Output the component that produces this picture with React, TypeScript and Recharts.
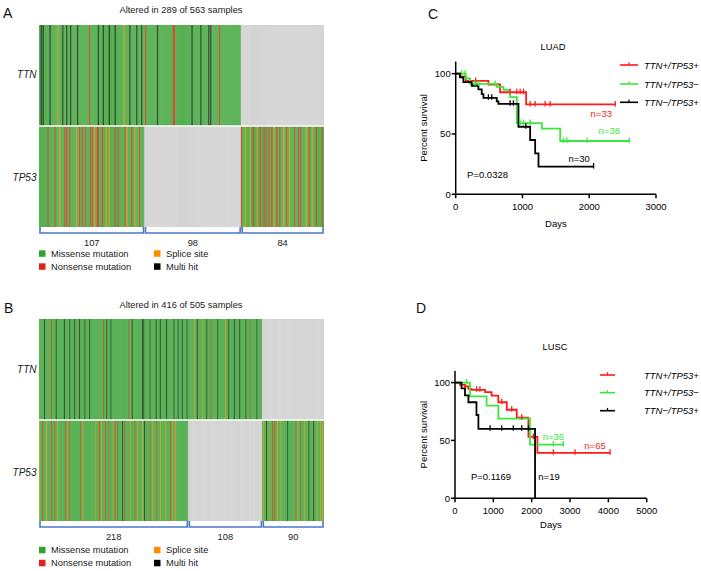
import {
  Bar,
  BarChart,
  Cell,
  ComposedChart,
  LabelList,
  Line,
  ReferenceDot,
  XAxis,
  YAxis,
} from "recharts";

type Hit = [number, string];
type KmPoint = [number, number, number];

// ---- oncoprint data (sample index, alteration type) ----
// M = multi hit, N = nonsense, S = splice site; everything else in an altered block is missense
const luadGroups = [107, 98, 84];
const luadTtnHits: Hit[] = [
  [2, "M"], [4, "M"], [11, "M"], [19, "S"], [24, "M"], [28, "M"], [32, "M"], [39, "M"], [51, "N"],
  [60, "M"], [65, "M"], [71, "M"], [77, "M"], [86, "S"], [92, "M"], [99, "M"], [104, "M"], [108, "N"],
  [120, "M"], [136, "N"], [137, "N"], [155, "M"], [164, "M"], [172, "M"], [174, "M"], [183, "N"],
];
const luadTp53Hits: Hit[] = [
  [9, "N"], [16, "N"], [21, "S"], [26, "N"], [28, "N"], [31, "N"], [38, "S"], [41, "N"], [44, "N"],
  [47, "N"], [52, "N"], [54, "N"], [56, "S"], [59, "N"], [60, "N"], [64, "N"], [68, "S"], [71, "S"],
  [77, "N"], [80, "N"], [87, "N"], [89, "S"], [94, "N"], [97, "S"], [102, "N"],
  [205, "N"], [209, "S"], [214, "S"], [217, "N"], [221, "S"], [224, "N"], [228, "N"], [230, "N"],
  [233, "N"], [236, "N"], [238, "S"], [241, "N"], [244, "N"], [248, "S"], [251, "N"], [254, "S"],
  [259, "N"], [263, "N"], [265, "N"], [271, "S"], [274, "N"], [277, "S"], [281, "N"], [287, "N"],
];

const luscGroups = [218, 108, 90];
const luscTtnHits: Hit[] = [
  [8, "M"], [18, "N"], [25, "M"], [37, "M"], [45, "M"], [52, "M"], [59, "M"], [67, "M"], [74, "M"],
  [94, "N"], [99, "M"], [105, "M"], [131, "N"], [136, "M"], [151, "M"], [153, "M"], [162, "M"],
  [171, "M"], [177, "M"], [186, "M"], [197, "M"], [203, "M"], [209, "M"], [216, "M"], [227, "S"],
  [231, "M"], [239, "S"], [245, "M"], [251, "N"], [261, "M"], [272, "S"], [277, "M"], [285, "M"],
  [293, "M"], [302, "M"], [308, "N"], [318, "M"],
];
const luscTp53Hits: Hit[] = [
  [1, "S"], [5, "N"], [11, "S"], [18, "N"], [23, "N"], [27, "S"], [38, "N"], [42, "S"], [44, "N"],
  [61, "N"], [64, "S"], [83, "S"], [88, "N"], [91, "S"], [97, "N"], [102, "N"], [108, "S"], [111, "N"],
  [115, "N"], [122, "M"], [125, "N"], [133, "S"], [140, "N"], [144, "S"], [151, "S"], [154, "M"],
  [162, "N"], [166, "S"], [172, "N"], [177, "S"], [185, "S"], [192, "N"], [195, "S"], [199, "S"],
  [328, "S"], [332, "M"], [337, "S"], [341, "N"], [344, "N"], [348, "S"], [353, "S"], [363, "M"],
  [375, "N"], [378, "S"], [382, "N"], [388, "S"], [394, "M"], [401, "M"], [406, "S"], [411, "S"],
  [414, "S"],
];

// ---- survival curves: [days, percent survival, censored] ----
const luadPosPos: KmPoint[] = [
  [0, 100, 0], [60, 97.5, 0], [150, 94, 0], [300, 94, 1], [490, 91, 0], [665, 84.6, 0],
  [815, 84.6, 1], [915, 84.6, 1], [965, 84.6, 1], [1015, 84.6, 1], [1055, 74.5, 0], [1115, 74.5, 1],
  [1190, 74.5, 1], [1340, 74.5, 1], [1415, 74.5, 1], [2390, 74.5, 1],
];
const luadPosNeg: KmPoint[] = [
  [0, 100, 0], [90, 100, 1], [140, 100, 1], [150, 96, 0], [215, 91.5, 0], [290, 91.5, 1],
  [340, 91.5, 1], [590, 91.5, 1], [615, 89, 0], [715, 86.5, 0], [815, 80.5, 0], [915, 59, 0],
  [965, 59, 1], [1015, 59, 1], [1115, 59, 1], [1290, 54.4, 0], [1565, 44.2, 0], [1615, 44.2, 1],
  [1665, 44.2, 1], [1965, 44.2, 1], [2600, 44.2, 1],
];
const luadNegPos: KmPoint[] = [
  [0, 100, 0], [65, 97, 0], [115, 93, 0], [240, 90, 0], [340, 87, 0], [390, 83, 0], [415, 80, 0],
  [490, 80, 1], [540, 80, 1], [615, 77, 0], [640, 75, 0], [815, 75, 1], [865, 75, 1], [940, 56, 0],
  [1050, 56, 1], [1115, 45, 0], [1190, 34, 0], [1240, 23, 0], [2065, 23, 1],
];

const luscPosPos: KmPoint[] = [
  [0, 100, 0], [130, 98, 0], [260, 96.6, 0], [350, 94.6, 0], [435, 93.7, 0], [565, 93.7, 1],
  [650, 93.7, 1], [785, 91.7, 0], [955, 88.8, 0], [1130, 83, 0], [1220, 83, 1], [1350, 76.5, 0],
  [1480, 76.5, 1], [1610, 69.6, 0], [1740, 69.6, 1], [1915, 53, 0], [2045, 53, 1], [2150, 39.3, 0],
  [2565, 39.3, 1], [3130, 39.3, 1], [4045, 39.3, 1],
];
const luscPosNeg: KmPoint[] = [
  [0, 100, 0], [305, 100, 1], [390, 88, 0], [825, 80, 0], [1130, 68.8, 0], [1955, 46.4, 0],
  [2565, 46.4, 1], [2825, 46.4, 1],
];
const luscNegPos: KmPoint[] = [
  [0, 100, 0], [170, 95, 0], [260, 89, 0], [350, 83, 0], [560, 72, 0], [610, 60, 0], [915, 60, 1],
  [1220, 60, 1], [1520, 60, 1], [1740, 60, 1], [1915, 60, 1], [2088, 0, 0],
];

const kmLabels = ["TTN+/TP53+", "TTN+/TP53\u2212", "TTN\u2212/TP53+"];
const luadTicks = [0, 1000, 2000, 3000];
const luscTicks = [0, 1000, 2000, 3000, 4000, 5000];
const survivalTicks = [0, 50, 100];

const FONT = '"Liberation Sans", Arial, Helvetica, sans-serif';

const MISSENSE = "#57b152";
const NONSENSE = "#e8392b";
const SPLICE = "#f29a1f";
const MULTI = "#262626";
const NOT_ALTERED = "#d5d5d5";
const BRACKET = "#4a78c8";

const KM_RED = "#ff1a1a";
const KM_GREEN = "#3be83b";
const KM_BLACK = "#000000";
const kmColors = [KM_RED, KM_GREEN, KM_BLACK];

const hitColor: Record<string, string> = {
  G: MISSENSE,
  X: NOT_ALTERED,
  M: MULTI,
  N: NONSENSE,
  S: SPLICE,
};

function buildSamples(groups: number[], ttnHits: Hit[], tp53Hits: Hit[], stripe: number) {
  const total = groups.reduce((a, b) => a + b, 0);
  const firstEnd = groups[0];
  const secondEnd = groups[0] + groups[1];
  const rows = Array.from({ length: total }, (_, i) => ({
    i,
    ttn: i < secondEnd ? "G" : "X",
    tp53: i < firstEnd || i >= secondEnd ? "G" : "X",
    tp53V: 1,
    gapV: 0.02,
    ttnV: 1,
  }));
  ttnHits.forEach(([s, t]) => {
    for (let k = 0; k < stripe; k++) {
      const r = rows[s + k];
      if (r && r.ttn !== "X") r.ttn = t;
    }
  });
  tp53Hits.forEach(([s, t]) => {
    for (let k = 0; k < stripe; k++) {
      const r = rows[s + k];
      if (r && r.tp53 !== "X") r.tp53 = t;
    }
  });
  return rows;
}

const Bracket = (props: any) => {
  const { x, y, width, height } = props;
  const l = x + 1;
  const r = x + width - 1;
  const b = y + height;
  return (
    <path
      d={`M${l},${y} L${l},${b} L${r},${b} L${r},${y}`}
      fill="none"
      stroke={BRACKET}
      strokeWidth={1.6}
    />
  );
};

interface OncoprintProps {
  groups: number[];
  ttnHits: Hit[];
  tp53Hits: Hit[];
  stripe: number;
  top: number;
}

const Oncoprint = ({ groups, ttnHits, tp53Hits, stripe, top }: OncoprintProps) => {
  const rows = buildSamples(groups, ttnHits, tp53Hits, stripe);
  const total = rows.length;
  const bracketRow: Record<string, number | string> = { name: "groups" };
  groups.forEach((g, k) => {
    bracketRow[`g${k}`] = g;
  });

  return (
    <>
      <div style={{ position: "absolute", left: 39, top }}>
        <BarChart
          width={285}
          height={202}
          data={rows}
          margin={{ top: 0, right: 0, bottom: 0, left: 0 }}
          barCategoryGap={0}
          barGap={0}
        >
          <XAxis dataKey="i" hide />
          <YAxis hide domain={[0, 2.02]} allowDataOverflow />
          <Bar dataKey="tp53V" stackId="s" isAnimationActive={false}>
            {rows.map((r) => (
              <Cell key={r.i} fill={hitColor[r.tp53]} stroke={hitColor[r.tp53]} strokeWidth={0.5} />
            ))}
          </Bar>
          <Bar dataKey="gapV" stackId="s" fill="#ffffff" fillOpacity={0} isAnimationActive={false} />
          <Bar dataKey="ttnV" stackId="s" isAnimationActive={false}>
            {rows.map((r) => (
              <Cell key={r.i} fill={hitColor[r.ttn]} stroke={hitColor[r.ttn]} strokeWidth={0.5} />
            ))}
          </Bar>
        </BarChart>
      </div>
      <div style={{ position: "absolute", left: 39, top: top + 201 }}>
        <BarChart
          layout="vertical"
          width={285}
          height={26}
          data={[bracketRow]}
          margin={{ top: 0, right: 0, bottom: 18, left: 0 }}
        >
          <XAxis type="number" hide domain={[0, total]} allowDataOverflow />
          <YAxis type="category" dataKey="name" hide />
          {groups.map((_, k) => (
            <Bar
              key={k}
              dataKey={`g${k}`}
              stackId="b"
              barSize={6}
              shape={Bracket}
              isAnimationActive={false}
            >
              <LabelList dataKey={`g${k}`} position="bottom" offset={6} fill="#222" fontSize={9.3} />
            </Bar>
          ))}
        </BarChart>
      </div>
    </>
  );
};

const censorDot = (color: string) => (props: any) => {
  const { cx, cy, payload, index } = props;
  if (!payload || !payload.c) return <g key={`d${index}`} />;
  return (
    <line
      key={`d${index}`}
      x1={cx}
      x2={cx}
      y1={cy - 3.5}
      y2={cy + 2}
      stroke={color}
      strokeWidth={1.3}
    />
  );
};

const toRows = (pts: KmPoint[]) => pts.map(([t, s, c]) => ({ t, s, c }));

interface Note {
  x: number;
  y: number;
  text: string;
  color: string;
}

interface KmProps {
  top: number;
  height: number;
  yAxisWidth: number;
  margin: { top: number; right: number; bottom: number; left: number };
  xAxisHeight: number;
  xMax: number;
  xTicks: number[];
  curves: KmPoint[][];
  notes: Note[];
  yLabelOffset: number;
}

const axisStyle = { stroke: "#000", strokeWidth: 1.5 };

// chart box starts at x=405 so the rotated axis title is not clipped
const KmPanel = ({ top, height, yAxisWidth, margin, xAxisHeight, xMax, xTicks, curves, notes, yLabelOffset }: KmProps) => (
  <div style={{ position: "absolute", left: 405, top }}>
    <ComposedChart width={296} height={height} margin={margin}>
      <XAxis
        type="number"
        dataKey="t"
        domain={[0, xMax]}
        ticks={xTicks}
        allowDataOverflow
        height={xAxisHeight}
        axisLine={axisStyle}
        tickLine={axisStyle}
        tickSize={4}
        tickMargin={5}
        tick={{ fill: "#000", fontSize: 9.5 }}
        label={{ value: "Days", position: "insideBottom", offset: 0, fill: "#000", fontSize: 9.5 }}
      />
      <YAxis
        type="number"
        domain={[0, 110]}
        ticks={survivalTicks}
        allowDataOverflow
        width={yAxisWidth}
        axisLine={axisStyle}
        tickLine={axisStyle}
        tickSize={4}
        tickMargin={1}
        tick={{ fill: "#000", fontSize: 9.5 }}
        label={{
          value: "Percent survival",
          angle: -90,
          position: "insideLeft",
          offset: yLabelOffset,
          fill: "#000",
          fontSize: 9.5,
          style: { textAnchor: "middle" },
        }}
      />
      {curves.map((pts, k) => (
        <Line
          key={k}
          data={toRows(pts)}
          dataKey="s"
          type="stepAfter"
          stroke={kmColors[k]}
          strokeWidth={1.8}
          dot={censorDot(kmColors[k])}
          activeDot={false}
          isAnimationActive={false}
        />
      ))}
      {notes.map((n) => (
        <ReferenceDot
          key={n.text}
          x={n.x}
          y={n.y}
          r={0}
          fill="none"
          stroke="none"
          label={{ value: n.text, position: "center", fill: n.color, fontSize: 9.5 }}
        />
      ))}
    </ComposedChart>
  </div>
);

const Swatch = ({ x, cy, color, label }: { x: number; cy: number; color: string; label: string }) => (
  <g>
    <rect x={x} y={cy - 3.2} width={6.5} height={6.5} fill={color} />
    <text x={x + 12} y={cy} fontSize={9.3} fill="#222" dominantBaseline="central">
      {label}
    </text>
  </g>
);

const MutationKey = ({ cy }: { cy: number }) => (
  <g>
    <Swatch x={39} cy={cy} color="#2fa32f" label="Missense mutation" />
    <Swatch x={154} cy={cy} color="#ff8c00" label="Splice site" />
    <Swatch x={39} cy={cy + 13} color="#e3211c" label="Nonsense mutation" />
    <Swatch x={154} cy={cy + 13} color="#000" label="Multi hit" />
  </g>
);

const KmKey = ({ x1, x2, textX, rows }: { x1: number; x2: number; textX: number; rows: number[] }) => (
  <g>
    {rows.map((cy, k) => (
      <g key={k}>
        <line x1={x1} x2={x2} y1={cy} y2={cy} stroke={kmColors[k]} strokeWidth={1.6} />
        <line x1={(x1 + x2) / 2} x2={(x1 + x2) / 2} y1={cy - 2.8} y2={cy} stroke={kmColors[k]} strokeWidth={1.2} />
        <text x={textX} y={cy} fontSize={9.5} fontStyle="italic" fill="#000" dominantBaseline="central">
          {kmLabels[k]}
        </text>
      </g>
    ))}
  </g>
);

export default function App() {
  return (
    <div
      style={{
        position: "absolute",
        left: 0,
        top: 0,
        width: 701,
        height: 571,
        background: "#fff",
        fontFamily: FONT,
        overflow: "hidden",
      }}
    >
      <Oncoprint groups={luadGroups} ttnHits={luadTtnHits} tp53Hits={luadTp53Hits} stripe={1} top={25} />
      <Oncoprint groups={luscGroups} ttnHits={luscTtnHits} tp53Hits={luscTp53Hits} stripe={1} top={319} />

      <KmPanel
        top={40}
        height={200}
        yAxisWidth={50.7}
        margin={{ top: 21.6, right: 45, bottom: 12.7, left: 0 }}
        xAxisHeight={33}
        xMax={3000}
        xTicks={luadTicks}
        curves={[luadPosPos, luadPosNeg, luadNegPos]}
        yLabelOffset={18.8}
        notes={[
          { x: 2180, y: 66.6, text: "n=33", color: KM_RED },
          { x: 2300, y: 52.7, text: "n=38", color: KM_GREEN },
          { x: 1850, y: 29.5, text: "n=30", color: KM_BLACK },
          { x: 477, y: 16, text: "P=0.0328", color: KM_BLACK },
        ]}
      />
      <KmPanel
        top={300}
        height={240}
        yAxisWidth={50}
        margin={{ top: 71, right: 54.3, bottom: 11.7, left: 0 }}
        xAxisHeight={30}
        xMax={5000}
        xTicks={luscTicks}
        curves={[luscPosPos, luscPosNeg, luscNegPos]}
        yLabelOffset={18.5}
        notes={[
          { x: 2565, y: 53, text: "n=36", color: KM_GREEN },
          { x: 3652, y: 45.2, text: "n=65", color: KM_RED },
          { x: 2452, y: 18.6, text: "n=19", color: KM_BLACK },
          { x: 940, y: 18.6, text: "P=0.1169", color: KM_BLACK },
        ]}
      />

      <svg
        width={701}
        height={571}
        style={{ position: "absolute", left: 0, top: 0, pointerEvents: "none" }}
        fontFamily={FONT}
      >
        <text x={3} y={13.3} fontSize={14} fill="#111" dominantBaseline="central">A</text>
        <text x={181} y={10} fontSize={9.3} fill="#222" textAnchor="middle" dominantBaseline="central">
          Altered in 289 of 563 samples
        </text>
        <text x={36.5} y={74} fontSize={10} fontStyle="italic" fill="#222" textAnchor="end" dominantBaseline="central">TTN</text>
        <text x={36.5} y={177} fontSize={10} fontStyle="italic" fill="#222" textAnchor="end" dominantBaseline="central">TP53</text>
        <MutationKey cy={253.5} />

        <text x={4} y={307.5} fontSize={14} fill="#111" dominantBaseline="central">B</text>
        <text x={181} y={305} fontSize={9.3} fill="#222" textAnchor="middle" dominantBaseline="central">
          Altered in 416 of 505 samples
        </text>
        <text x={36.5} y={369.5} fontSize={10} fontStyle="italic" fill="#222" textAnchor="end" dominantBaseline="central">TTN</text>
        <text x={36.5} y={472} fontSize={10} fontStyle="italic" fill="#222" textAnchor="end" dominantBaseline="central">TP53</text>
        <MutationKey cy={550} />

        <text x={428} y={14} fontSize={14} fill="#111" dominantBaseline="central">C</text>
        <text x={553} y={47.3} fontSize={9.3} fill="#000" textAnchor="middle" dominantBaseline="central">LUAD</text>
        <KmKey x1={620} x2={638} textX={644} rows={[65, 84, 102.3]} />

        <text x={416} y={307.5} fontSize={14} fill="#111" dominantBaseline="central">D</text>
        <text x={555} y={346.7} fontSize={9.3} fill="#000" textAnchor="middle" dominantBaseline="central">LUSC</text>
        <KmKey x1={600} x2={615} textX={644} rows={[375, 392.7, 410.7]} />
      </svg>
    </div>
  );
}
